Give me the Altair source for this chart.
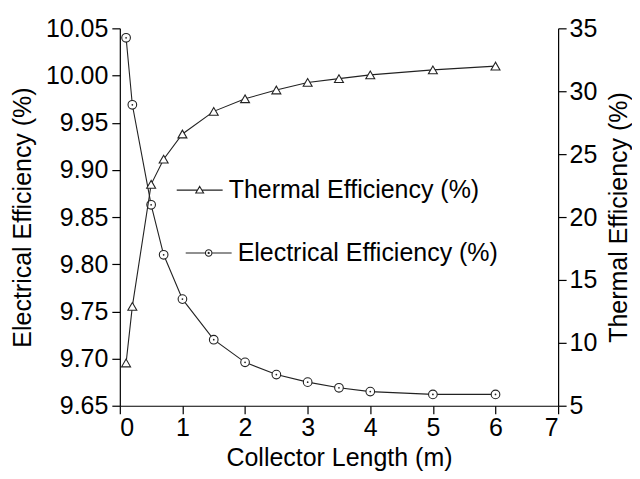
import altair as alt
import pandas as pd

lengths = [0.1, 0.2, 0.5, 0.7, 1.0, 1.5, 2.0, 2.5, 3.0, 3.5, 4.0, 5.0, 6.0]
electrical = [10.040, 9.969, 9.863, 9.810, 9.763, 9.720, 9.696, 9.683, 9.675, 9.669, 9.665, 9.662, 9.662]
thermal = [8.4, 12.9, 22.6, 24.6, 26.6, 28.4, 29.4, 30.1, 30.7, 31.0, 31.3, 31.7, 32.0]
series_names = ["Electrical Efficiency (%)", "Thermal Efficiency (%)"]

df = pd.DataFrame({"L": lengths, "elec": electrical, "therm": thermal,
                   "se": series_names[0], "st": series_names[1]})

FONT = "Liberation Sans"
FS = 25

x_enc = alt.X("L:Q", scale=alt.Scale(domain=[0, 7], nice=False),
              axis=alt.Axis(values=[0, 1, 2, 3, 4, 5, 6, 7], title="Collector Length (m)",
                            titlePadding=5, labelPadding=2))

tri_path = ("M-1,0L-0.09,0M0.09,0L1,0"
            "M0,-0.16L0.17,0.13L-0.17,0.13Z")
circ_path = ("M-1,0L-0.14,0M0.14,0L1,0"
             "M-0.14,0A0.14,0.14 0 1,0 0.14,0A0.14,0.14 0 1,0 -0.14,0"
             "M-0.025,0A0.025,0.025 0 1,0 0.025,0A0.025,0.025 0 1,0 -0.025,0")

base = alt.Chart(df)

y_e = alt.Y("elec:Q", scale=alt.Scale(domain=[9.65, 10.05], nice=False, zero=False),
            axis=alt.Axis(orient="left", values=[9.65, 9.70, 9.75, 9.80, 9.85, 9.90, 9.95, 10.00, 10.05],
                          format=".2f", title="Electrical Efficiency (%)", titlePadding=10, labelPadding=4))
y_t = alt.Y("therm:Q", scale=alt.Scale(domain=[5, 35], nice=False, zero=False),
            axis=alt.Axis(orient="right", values=[5, 10, 15, 20, 25, 30, 35],
                          title="Thermal Efficiency (%)", titleAngle=270, titleBaseline="top",
                          titlePadding=10, labelPadding=3))

def legend(x, y, path):
    return alt.Legend(title=None, orient="none", legendX=x, legendY=y,
                      symbolType=path, symbolSize=2116, symbolStrokeWidth=1.1,
                      labelFontSize=FS, labelFont=FONT, labelColor="black",
                      labelOffset=5, labelLimit=600, padding=0)

e_line = base.mark_line(color="#222222", strokeWidth=1.1).encode(x=x_enc, y=y_e)
e_pts = base.mark_point(shape="circle", size=75, filled=False, fill="white", fillOpacity=1,
                        strokeWidth=1.1, opacity=1).encode(
    x=x_enc, y=y_e,
    stroke=alt.Stroke("se:N", scale=alt.Scale(range=["#222222"]),
                      legend=legend(65, 201, circ_path)))
e_dot = base.mark_point(shape="circle", size=3, filled=True, color="#222222", opacity=1).encode(x=x_enc, y=y_e)

t_line = base.mark_line(color="#222222", strokeWidth=1.1).encode(x=x_enc, y=y_t)
t_pts = base.mark_point(shape="triangle-up", size=80, filled=False, fill="white", fillOpacity=1,
                        strokeWidth=1.1, opacity=1).encode(
    x=x_enc, y=y_t,
    stroke=alt.Stroke("st:N", scale=alt.Scale(range=["#222222"]),
                      legend=legend(56, 138, tri_path)))

elec_layer = alt.layer(e_line, e_pts, e_dot)
therm_layer = alt.layer(t_line, t_pts)

chart = alt.layer(elec_layer, therm_layer).resolve_scale(
    y="independent", stroke="independent").resolve_legend(stroke="independent").properties(
    width=439, height=378, padding={"left": 2, "top": 8, "right": 0, "bottom": 0},
    background="white"
).configure_axis(
    labelFont=FONT, titleFont=FONT, labelFontSize=FS, titleFontSize=FS,
    titleFontWeight="normal", labelColor="black", titleColor="black",
    domainColor="black", tickColor="black", tickSize=8, grid=False,
    domainWidth=1.2, tickWidth=1.2
).configure_view(stroke=None)

chart.save("out.html", embed_options={"renderer": "svg", "actions": False})
